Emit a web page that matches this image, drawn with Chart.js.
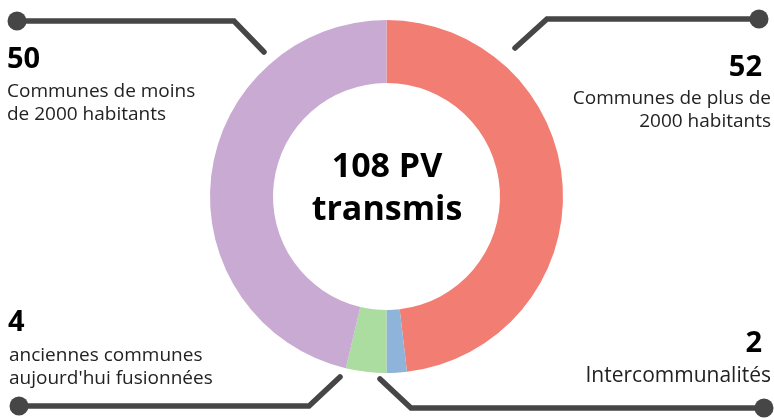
<!DOCTYPE html>
<html>
<head>
<meta charset="utf-8">
<script src="https://cdn.jsdelivr.net/npm/chart.js@4/dist/chart.umd.min.js"></script>
<style>
  html, body { margin: 0; padding: 0; background: #fff; }
  #wrap { position: relative; width: 774px; height: 420px; overflow: hidden; font-family: "Open Sans", sans-serif; }
  canvas { position: absolute; left: 0; top: 0; }
  .lbl { position: absolute; color: #222; font-size: 19px; line-height: 23px; white-space: nowrap; }
  .num { position: absolute; color: #000; font-weight: 700; font-size: 29px; line-height: 28px; white-space: nowrap; }
  .right { text-align: right; }
  #center { position: absolute; left: 277px; width: 220px; top: 143px; text-align: center; font-weight: 700; font-size: 34px; line-height: 43px; color: #000; }
</style>
</head>
<body>
<div id="wrap">
  <canvas id="c" width="774" height="420"></canvas>
</div>
<script>
const categories = ["Communes de plus de 2000 habitants", "Intercommunalités", "anciennes communes aujourd'hui fusionnées", "Communes de moins de 2000 habitants"];
const values = [52, 2, 4, 50];
const colors = ["#F27E73", "#8EB4DA", "#ABDCA0", "#C9AAD3"];
const centerLines = ["108 PV", "transmis"];
const labelLines = [
  ["Communes de plus de", "2000 habitants"],
  ["Intercommunalités"],
  ["anciennes communes", "aujourd'hui fusionnées"],
  ["Communes de moins", "de 2000 habitants"]
];

// Leader lines (decorative annotations) relative to the doughnut centre
const leaders = [
  [[128.5, -148.5], [160.5, -177.5], [372.5, -177.5]],   // top right
  [[-6.5, 182.5], [24.5, 211.5], [377.5, 211.5]],         // bottom right
  [[-46.5, 180.5], [-77.5, 209.5], [-367.5, 209.5]],      // bottom left
  [[-122.5, -144.5], [-152.5, -175.5], [-369.5, -175.5]]  // top left
];

const leaderPlugin = {
  id: 'leaders',
  afterDraw(chart) {
    const arc = chart.getDatasetMeta(0).data[0];
    const cx = arc.x, cy = arc.y;
    const ctx = chart.ctx;
    ctx.save();
    ctx.strokeStyle = '#464646';
    ctx.fillStyle = '#464646';
    ctx.lineWidth = 5.5;
    ctx.lineCap = 'round';
    ctx.lineJoin = 'miter';
    leaders.forEach(pts => {
      ctx.beginPath();
      pts.forEach((p, i) => {
        if (i === 0) ctx.moveTo(cx + p[0], cy + p[1]);
        else ctx.lineTo(cx + p[0], cy + p[1]);
      });
      ctx.stroke();
      const last = pts[pts.length - 1];
      ctx.beginPath();
      ctx.arc(cx + last[0], cy + last[1], 9.5, 0, Math.PI * 2);
      ctx.fill();
    });
    ctx.restore();
  }
};

Chart.defaults.font.family = '"Open Sans", sans-serif';

const chart = new Chart(document.getElementById('c'), {
  type: 'doughnut',
  data: {
    labels: categories,
    datasets: [{
      data: values,
      backgroundColor: colors,
      borderWidth: 0,
      hoverOffset: 0
    }]
  },
  options: {
    responsive: false,
    animation: false,
    cutout: '64.3%',
    layout: { padding: { top: 20, bottom: 47, left: 0, right: 1 } },
    plugins: { legend: { display: false }, tooltip: { enabled: false } }
  },
  plugins: [leaderPlugin]
});

// HTML labels
const wrap = document.getElementById('wrap');
function addDiv(cls, text, style) {
  const d = document.createElement('div');
  d.className = cls;
  d.innerHTML = text;
  Object.assign(d.style, style);
  wrap.appendChild(d);
  return d;
}
const pos = [
  { num: { right: '12px', top: '51px' }, lbl: { right: '3px', top: '86px' }, right: true },
  { num: { right: '12px', top: '327px' }, lbl: { right: '3px', top: '363px', fontSize: '21px' }, right: true },
  { num: { left: '8px', top: '306px' }, lbl: { left: '9px', top: '343px' }, right: false },
  { num: { left: '7px', top: '43px' }, lbl: { left: '7px', top: '79px' }, right: false }
];
values.forEach((v, i) => {
  const p = pos[i];
  addDiv('num' + (p.right ? ' right' : ''), String(v), p.num);
  addDiv('lbl' + (p.right ? ' right' : ''), labelLines[i].join('<br>'), p.lbl);
});
addDiv('', centerLines.join('<br>'), {}).id = 'center';
</script>
</body>
</html>
